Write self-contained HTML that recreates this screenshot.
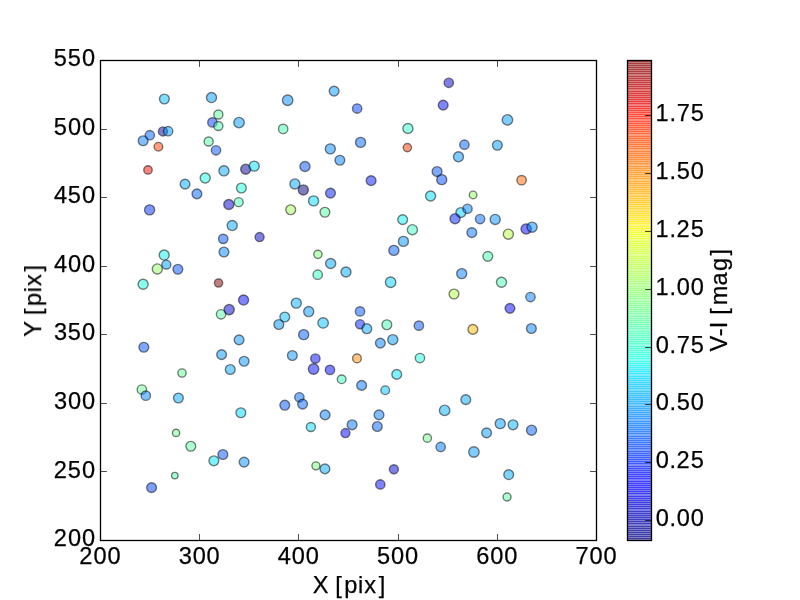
<!DOCTYPE html>
<html lang="en">
<head>
<meta charset="utf-8">
<title>Scatter plot: X [pix] vs Y [pix], colour V-I [mag]</title>
<style>
html,body{margin:0;padding:0;background:#ffffff;}
body{width:800px;height:600px;overflow:hidden;font-family:"Liberation Sans",sans-serif;}
svg{display:block;}
svg text{font-family:"Liberation Sans",sans-serif;fill:#000000;stroke:#000000;stroke-width:0.25px;}
.tick{stroke:#000;stroke-width:0.7;fill:none;}
.pt{stroke:#000000;stroke-opacity:0.5;stroke-width:1.389;fill-opacity:0.5;}
.cb rect{fill-opacity:0.5;shape-rendering:crispEdges;}
</style>
</head>
<body>
<svg width="800" height="600" viewBox="0 0 800 600">
<rect x="0" y="0" width="800" height="600" fill="#ffffff"/>

<g class="pts" aria-label="scatter points">
<circle class="pt" cx="238.70" cy="202.15" r="4.48" fill="#43ffb4"/>
<circle class="pt" cx="460.82" cy="212.59" r="4.93" fill="#00d0ff"/>
<circle class="pt" cx="164.36" cy="99.01" r="4.88" fill="#00bcff"/>
<circle class="pt" cx="211.52" cy="97.57" r="5.03" fill="#009cff"/>
<circle class="pt" cx="218.36" cy="114.49" r="4.53" fill="#5aff9d"/>
<circle class="pt" cx="212.42" cy="122.41" r="4.68" fill="#0040ff"/>
<circle class="pt" cx="218.36" cy="126.01" r="4.53" fill="#49ffad"/>
<circle class="pt" cx="162.92" cy="131.41" r="4.53" fill="#00009f"/>
<circle class="pt" cx="168.14" cy="131.23" r="4.68" fill="#009cff"/>
<circle class="pt" cx="149.78" cy="135.19" r="4.68" fill="#0060ff"/>
<circle class="pt" cx="143.12" cy="140.77" r="4.88" fill="#0080ff"/>
<circle class="pt" cx="158.42" cy="146.71" r="4.33" fill="#ff3f00"/>
<circle class="pt" cx="208.64" cy="141.49" r="4.53" fill="#53ffa4"/>
<circle class="pt" cx="216.02" cy="150.31" r="4.68" fill="#0054ff"/>
<circle class="pt" cx="147.98" cy="169.93" r="4.23" fill="#f10800"/>
<circle class="pt" cx="223.94" cy="170.83" r="5.03" fill="#00a8ff"/>
<circle class="pt" cx="205.22" cy="178.03" r="5.03" fill="#19ffde"/>
<circle class="pt" cx="185.06" cy="184.15" r="4.88" fill="#00a8ff"/>
<circle class="pt" cx="287.66" cy="100.27" r="5.23" fill="#0088ff"/>
<circle class="pt" cx="334.10" cy="91.09" r="4.88" fill="#009cff"/>
<circle class="pt" cx="357.14" cy="108.55" r="4.68" fill="#0040ff"/>
<circle class="pt" cx="239.06" cy="122.59" r="5.23" fill="#009cff"/>
<circle class="pt" cx="283.16" cy="128.89" r="4.68" fill="#43ffb4"/>
<circle class="pt" cx="360.56" cy="142.39" r="5.03" fill="#0068ff"/>
<circle class="pt" cx="330.32" cy="148.87" r="5.03" fill="#0088ff"/>
<circle class="pt" cx="339.86" cy="160.21" r="4.88" fill="#0080ff"/>
<circle class="pt" cx="304.94" cy="166.51" r="5.03" fill="#0054ff"/>
<circle class="pt" cx="245.72" cy="169.21" r="5.03" fill="#000096"/>
<circle class="pt" cx="254.18" cy="166.15" r="5.03" fill="#00dcfe"/>
<circle class="pt" cx="371.10" cy="180.65" r="4.88" fill="#0018ff"/>
<circle class="pt" cx="294.90" cy="183.95" r="5.03" fill="#00a8ff"/>
<circle class="pt" cx="241.40" cy="188.05" r="4.88" fill="#19ffde"/>
<circle class="pt" cx="448.76" cy="82.81" r="4.68" fill="#0000cd"/>
<circle class="pt" cx="443.18" cy="105.13" r="4.88" fill="#000cff"/>
<circle class="pt" cx="507.44" cy="119.89" r="5.23" fill="#009cff"/>
<circle class="pt" cx="407.90" cy="128.53" r="5.03" fill="#29ffce"/>
<circle class="pt" cx="407.36" cy="147.61" r="4.13" fill="#ff3800"/>
<circle class="pt" cx="464.42" cy="144.73" r="4.68" fill="#0060ff"/>
<circle class="pt" cx="497.36" cy="145.27" r="4.88" fill="#009cff"/>
<circle class="pt" cx="458.48" cy="156.79" r="5.03" fill="#0094ff"/>
<circle class="pt" cx="437.06" cy="171.55" r="4.88" fill="#0054ff"/>
<circle class="pt" cx="441.74" cy="179.65" r="5.03" fill="#004cff"/>
<circle class="pt" cx="521.60" cy="180.19" r="4.73" fill="#ff6800"/>
<circle class="pt" cx="196.94" cy="193.87" r="4.88" fill="#0060ff"/>
<circle class="pt" cx="149.60" cy="209.89" r="5.03" fill="#002cff"/>
<circle class="pt" cx="228.80" cy="204.49" r="5.03" fill="#0000cd"/>
<circle class="pt" cx="232.22" cy="225.55" r="5.03" fill="#00a8ff"/>
<circle class="pt" cx="223.22" cy="238.87" r="4.68" fill="#0054ff"/>
<circle class="pt" cx="223.94" cy="252.01" r="4.88" fill="#0088ff"/>
<circle class="pt" cx="164.18" cy="255.07" r="5.03" fill="#09f0ee"/>
<circle class="pt" cx="166.34" cy="264.61" r="4.53" fill="#009cff"/>
<circle class="pt" cx="157.34" cy="268.93" r="5.03" fill="#94ff63"/>
<circle class="pt" cx="177.86" cy="269.29" r="4.88" fill="#0054ff"/>
<circle class="pt" cx="143.12" cy="284.23" r="5.03" fill="#19ffde"/>
<circle class="pt" cx="218.54" cy="282.97" r="4.13" fill="#800000"/>
<circle class="pt" cx="303.32" cy="189.91" r="5.03" fill="#000080"/>
<circle class="pt" cx="330.50" cy="193.15" r="4.88" fill="#0018ff"/>
<circle class="pt" cx="313.58" cy="200.89" r="5.03" fill="#00dcfe"/>
<circle class="pt" cx="290.72" cy="209.71" r="4.88" fill="#a4ff53"/>
<circle class="pt" cx="324.92" cy="212.23" r="4.88" fill="#53ffa4"/>
<circle class="pt" cx="259.58" cy="237.07" r="4.53" fill="#0000cd"/>
<circle class="pt" cx="317.90" cy="254.35" r="4.13" fill="#7dff7a"/>
<circle class="pt" cx="330.68" cy="263.53" r="5.03" fill="#00a8ff"/>
<circle class="pt" cx="345.98" cy="271.99" r="5.03" fill="#00a8ff"/>
<circle class="pt" cx="317.72" cy="274.69" r="4.68" fill="#30ffc7"/>
<circle class="pt" cx="430.58" cy="196.03" r="5.03" fill="#00dcfe"/>
<circle class="pt" cx="473.06" cy="194.95" r="3.78" fill="#94ff63"/>
<circle class="pt" cx="467.48" cy="208.81" r="4.68" fill="#0080ff"/>
<circle class="pt" cx="455.06" cy="218.71" r="5.03" fill="#0020ff"/>
<circle class="pt" cx="480.08" cy="219.07" r="4.68" fill="#0068ff"/>
<circle class="pt" cx="495.20" cy="219.43" r="5.03" fill="#0094ff"/>
<circle class="pt" cx="402.68" cy="219.61" r="4.88" fill="#09f0ee"/>
<circle class="pt" cx="412.40" cy="229.69" r="5.03" fill="#39ffbe"/>
<circle class="pt" cx="471.80" cy="232.57" r="4.88" fill="#0074ff"/>
<circle class="pt" cx="508.34" cy="234.19" r="5.03" fill="#b4ff43"/>
<circle class="pt" cx="403.40" cy="241.39" r="5.03" fill="#0094ff"/>
<circle class="pt" cx="393.86" cy="250.39" r="5.03" fill="#0060ff"/>
<circle class="pt" cx="487.82" cy="256.33" r="4.88" fill="#43ffb4"/>
<circle class="pt" cx="461.72" cy="273.61" r="5.03" fill="#0080ff"/>
<circle class="pt" cx="390.62" cy="282.25" r="5.23" fill="#00d0ff"/>
<circle class="pt" cx="501.50" cy="282.25" r="5.03" fill="#43ffb4"/>
<circle class="pt" cx="526.16" cy="228.97" r="5.13" fill="#0004ff"/>
<circle class="pt" cx="532.10" cy="227.17" r="5.03" fill="#0088ff"/>
<circle class="pt" cx="221.06" cy="314.29" r="4.68" fill="#53ffa4"/>
<circle class="pt" cx="229.16" cy="309.61" r="5.13" fill="#0000cd"/>
<circle class="pt" cx="143.84" cy="347.23" r="4.88" fill="#0054ff"/>
<circle class="pt" cx="221.60" cy="354.61" r="4.88" fill="#0094ff"/>
<circle class="pt" cx="230.24" cy="369.55" r="4.88" fill="#00a8ff"/>
<circle class="pt" cx="182.00" cy="372.97" r="4.13" fill="#63ff94"/>
<circle class="pt" cx="141.86" cy="389.53" r="4.68" fill="#6aff8d"/>
<circle class="pt" cx="145.82" cy="395.65" r="4.68" fill="#0088ff"/>
<circle class="pt" cx="178.40" cy="397.99" r="4.88" fill="#00a8ff"/>
<circle class="pt" cx="243.56" cy="300.07" r="5.03" fill="#0004ff"/>
<circle class="pt" cx="296.30" cy="303.13" r="5.03" fill="#00b0ff"/>
<circle class="pt" cx="308.72" cy="311.59" r="5.03" fill="#009cff"/>
<circle class="pt" cx="278.84" cy="324.55" r="4.88" fill="#0094ff"/>
<circle class="pt" cx="284.78" cy="316.99" r="4.88" fill="#00bcff"/>
<circle class="pt" cx="323.12" cy="322.93" r="5.23" fill="#00c4ff"/>
<circle class="pt" cx="360.02" cy="311.41" r="4.68" fill="#0054ff"/>
<circle class="pt" cx="360.02" cy="324.19" r="4.53" fill="#0020ff"/>
<circle class="pt" cx="366.86" cy="328.69" r="4.88" fill="#00a8ff"/>
<circle class="pt" cx="303.68" cy="334.63" r="5.03" fill="#0060ff"/>
<circle class="pt" cx="239.06" cy="339.85" r="4.88" fill="#0094ff"/>
<circle class="pt" cx="292.34" cy="355.51" r="4.88" fill="#0094ff"/>
<circle class="pt" cx="244.10" cy="361.27" r="4.88" fill="#0094ff"/>
<circle class="pt" cx="315.38" cy="358.57" r="4.68" fill="#0004ff"/>
<circle class="pt" cx="313.58" cy="369.01" r="5.23" fill="#000cff"/>
<circle class="pt" cx="329.96" cy="369.91" r="4.68" fill="#0004ff"/>
<circle class="pt" cx="356.96" cy="358.39" r="4.33" fill="#ff8d00"/>
<circle class="pt" cx="341.66" cy="379.27" r="4.33" fill="#39ffbe"/>
<circle class="pt" cx="361.64" cy="385.39" r="4.88" fill="#0074ff"/>
<circle class="pt" cx="299.36" cy="397.27" r="4.68" fill="#0068ff"/>
<circle class="pt" cx="453.98" cy="293.95" r="4.88" fill="#b4ff43"/>
<circle class="pt" cx="509.96" cy="308.35" r="4.88" fill="#0004ff"/>
<circle class="pt" cx="386.84" cy="324.73" r="4.88" fill="#43ffb4"/>
<circle class="pt" cx="418.88" cy="325.63" r="4.68" fill="#0054ff"/>
<circle class="pt" cx="472.88" cy="329.41" r="4.88" fill="#ffbd00"/>
<circle class="pt" cx="392.78" cy="339.67" r="5.03" fill="#009cff"/>
<circle class="pt" cx="380.36" cy="343.09" r="4.88" fill="#0080ff"/>
<circle class="pt" cx="419.96" cy="358.03" r="4.68" fill="#19ffde"/>
<circle class="pt" cx="396.74" cy="374.41" r="4.88" fill="#00e4f8"/>
<circle class="pt" cx="385.22" cy="390.25" r="4.33" fill="#00c4ff"/>
<circle class="pt" cx="465.80" cy="399.65" r="4.88" fill="#00a8ff"/>
<circle class="pt" cx="530.48" cy="297.01" r="4.68" fill="#0080ff"/>
<circle class="pt" cx="531.38" cy="328.51" r="4.88" fill="#0080ff"/>
<circle class="pt" cx="176.06" cy="432.91" r="3.63" fill="#6aff8d"/>
<circle class="pt" cx="190.82" cy="446.23" r="4.88" fill="#5aff9d"/>
<circle class="pt" cx="213.86" cy="460.81" r="4.88" fill="#00e4f8"/>
<circle class="pt" cx="222.86" cy="454.51" r="4.88" fill="#0054ff"/>
<circle class="pt" cx="174.80" cy="475.57" r="3.23" fill="#49ffad"/>
<circle class="pt" cx="151.58" cy="487.63" r="4.88" fill="#0040ff"/>
<circle class="pt" cx="240.86" cy="412.75" r="4.88" fill="#00dcfe"/>
<circle class="pt" cx="284.78" cy="405.19" r="4.88" fill="#0054ff"/>
<circle class="pt" cx="302.60" cy="404.11" r="4.88" fill="#0068ff"/>
<circle class="pt" cx="325.10" cy="414.91" r="4.88" fill="#0080ff"/>
<circle class="pt" cx="310.88" cy="426.97" r="4.53" fill="#00dcfe"/>
<circle class="pt" cx="352.10" cy="424.81" r="4.88" fill="#0074ff"/>
<circle class="pt" cx="345.44" cy="433.09" r="4.53" fill="#0000ff"/>
<circle class="pt" cx="379.00" cy="414.91" r="4.88" fill="#0080ff"/>
<circle class="pt" cx="377.30" cy="426.55" r="4.88" fill="#0060ff"/>
<circle class="pt" cx="244.10" cy="462.07" r="4.88" fill="#0094ff"/>
<circle class="pt" cx="315.92" cy="465.85" r="3.98" fill="#7dff7a"/>
<circle class="pt" cx="324.92" cy="468.91" r="4.88" fill="#00a8ff"/>
<circle class="pt" cx="380.30" cy="484.45" r="4.68" fill="#0004ff"/>
<circle class="pt" cx="444.64" cy="410.41" r="5.23" fill="#00b0ff"/>
<circle class="pt" cx="500.25" cy="423.65" r="5.03" fill="#009cff"/>
<circle class="pt" cx="486.58" cy="432.91" r="4.88" fill="#009cff"/>
<circle class="pt" cx="427.36" cy="438.13" r="4.13" fill="#73ff83"/>
<circle class="pt" cx="440.68" cy="446.95" r="4.68" fill="#0074ff"/>
<circle class="pt" cx="473.90" cy="451.99" r="5.23" fill="#009cff"/>
<circle class="pt" cx="393.88" cy="469.27" r="4.53" fill="#0000da"/>
<circle class="pt" cx="513.02" cy="424.81" r="4.88" fill="#00b0ff"/>
<circle class="pt" cx="531.56" cy="430.21" r="5.03" fill="#0060ff"/>
<circle class="pt" cx="508.70" cy="474.67" r="4.88" fill="#00a8ff"/>
<circle class="pt" cx="507.08" cy="496.99" r="3.98" fill="#53ffa4"/>
</g>
<rect x="100.5" y="60.5" width="496" height="480" fill="none" stroke="#000" stroke-width="1.3"/>
<path class="tick" d="M100.5 540.5v-6.4M100.5 60.5v6.4M199.5 540.5v-6.4M199.5 60.5v6.4M298.5 540.5v-6.4M298.5 60.5v6.4M398.5 540.5v-6.4M398.5 60.5v6.4M497.5 540.5v-6.4M497.5 60.5v6.4M596.5 540.5v-6.4M596.5 60.5v6.4M100.5 540.5h6.4M596.5 540.5h-6.4M100.5 471.5h6.4M596.5 471.5h-6.4M100.5 403.5h6.4M596.5 403.5h-6.4M100.5 334.5h6.4M596.5 334.5h-6.4M100.5 266.5h6.4M596.5 266.5h-6.4M100.5 197.5h6.4M596.5 197.5h-6.4M100.5 129.5h6.4M596.5 129.5h-6.4M100.5 60.5h6.4M596.5 60.5h-6.4"/>
<g class="cb">
<rect x="628" y="538" width="24" height="2" fill="#000080"/>
<rect x="628" y="536" width="24" height="3" fill="#000084"/>
<rect x="628" y="534" width="24" height="3" fill="#000089"/>
<rect x="628" y="532" width="24" height="3" fill="#00008d"/>
<rect x="628" y="530" width="24" height="3" fill="#000092"/>
<rect x="628" y="528" width="24" height="3" fill="#000096"/>
<rect x="628" y="526" width="24" height="3" fill="#00009b"/>
<rect x="628" y="525" width="24" height="2" fill="#00009f"/>
<rect x="628" y="523" width="24" height="2" fill="#0000a4"/>
<rect x="628" y="521" width="24" height="3" fill="#0000a8"/>
<rect x="628" y="519" width="24" height="3" fill="#0000ad"/>
<rect x="628" y="517" width="24" height="3" fill="#0000b2"/>
<rect x="628" y="515" width="24" height="3" fill="#0000b6"/>
<rect x="628" y="513" width="24" height="3" fill="#0000bb"/>
<rect x="628" y="511" width="24" height="3" fill="#0000bf"/>
<rect x="628" y="510" width="24" height="2" fill="#0000c4"/>
<rect x="628" y="508" width="24" height="2" fill="#0000c8"/>
<rect x="628" y="506" width="24" height="3" fill="#0000cd"/>
<rect x="628" y="504" width="24" height="3" fill="#0000d1"/>
<rect x="628" y="502" width="24" height="3" fill="#0000d6"/>
<rect x="628" y="500" width="24" height="3" fill="#0000da"/>
<rect x="628" y="498" width="24" height="3" fill="#0000df"/>
<rect x="628" y="496" width="24" height="3" fill="#0000e3"/>
<rect x="628" y="495" width="24" height="2" fill="#0000e8"/>
<rect x="628" y="493" width="24" height="2" fill="#0000ed"/>
<rect x="628" y="491" width="24" height="3" fill="#0000f1"/>
<rect x="628" y="489" width="24" height="3" fill="#0000f6"/>
<rect x="628" y="487" width="24" height="3" fill="#0000fa"/>
<rect x="628" y="485" width="24" height="3" fill="#0000ff"/>
<rect x="628" y="483" width="24" height="3" fill="#0000ff"/>
<rect x="628" y="481" width="24" height="3" fill="#0000ff"/>
<rect x="628" y="480" width="24" height="2" fill="#0000ff"/>
<rect x="628" y="478" width="24" height="2" fill="#0000ff"/>
<rect x="628" y="476" width="24" height="3" fill="#0004ff"/>
<rect x="628" y="474" width="24" height="3" fill="#0008ff"/>
<rect x="628" y="472" width="24" height="3" fill="#000cff"/>
<rect x="628" y="470" width="24" height="3" fill="#0010ff"/>
<rect x="628" y="468" width="24" height="3" fill="#0014ff"/>
<rect x="628" y="466" width="24" height="3" fill="#0018ff"/>
<rect x="628" y="465" width="24" height="2" fill="#001cff"/>
<rect x="628" y="463" width="24" height="2" fill="#0020ff"/>
<rect x="628" y="461" width="24" height="3" fill="#0024ff"/>
<rect x="628" y="459" width="24" height="3" fill="#0028ff"/>
<rect x="628" y="457" width="24" height="3" fill="#002cff"/>
<rect x="628" y="455" width="24" height="3" fill="#0030ff"/>
<rect x="628" y="453" width="24" height="3" fill="#0034ff"/>
<rect x="628" y="451" width="24" height="3" fill="#0038ff"/>
<rect x="628" y="450" width="24" height="2" fill="#003cff"/>
<rect x="628" y="448" width="24" height="2" fill="#0040ff"/>
<rect x="628" y="446" width="24" height="3" fill="#0044ff"/>
<rect x="628" y="444" width="24" height="3" fill="#0048ff"/>
<rect x="628" y="442" width="24" height="3" fill="#004cff"/>
<rect x="628" y="440" width="24" height="3" fill="#0050ff"/>
<rect x="628" y="438" width="24" height="3" fill="#0054ff"/>
<rect x="628" y="436" width="24" height="3" fill="#0058ff"/>
<rect x="628" y="435" width="24" height="2" fill="#005cff"/>
<rect x="628" y="433" width="24" height="2" fill="#0060ff"/>
<rect x="628" y="431" width="24" height="3" fill="#0064ff"/>
<rect x="628" y="429" width="24" height="3" fill="#0068ff"/>
<rect x="628" y="427" width="24" height="3" fill="#006cff"/>
<rect x="628" y="425" width="24" height="3" fill="#0070ff"/>
<rect x="628" y="423" width="24" height="3" fill="#0074ff"/>
<rect x="628" y="421" width="24" height="3" fill="#0078ff"/>
<rect x="628" y="420" width="24" height="2" fill="#007cff"/>
<rect x="628" y="418" width="24" height="2" fill="#0080ff"/>
<rect x="628" y="416" width="24" height="3" fill="#0084ff"/>
<rect x="628" y="414" width="24" height="3" fill="#0088ff"/>
<rect x="628" y="412" width="24" height="3" fill="#008cff"/>
<rect x="628" y="410" width="24" height="3" fill="#0090ff"/>
<rect x="628" y="408" width="24" height="3" fill="#0094ff"/>
<rect x="628" y="406" width="24" height="3" fill="#0098ff"/>
<rect x="628" y="405" width="24" height="2" fill="#009cff"/>
<rect x="628" y="403" width="24" height="2" fill="#00a0ff"/>
<rect x="628" y="401" width="24" height="3" fill="#00a4ff"/>
<rect x="628" y="399" width="24" height="3" fill="#00a8ff"/>
<rect x="628" y="397" width="24" height="3" fill="#00acff"/>
<rect x="628" y="395" width="24" height="3" fill="#00b0ff"/>
<rect x="628" y="393" width="24" height="3" fill="#00b4ff"/>
<rect x="628" y="391" width="24" height="3" fill="#00b8ff"/>
<rect x="628" y="390" width="24" height="2" fill="#00bcff"/>
<rect x="628" y="388" width="24" height="2" fill="#00c0ff"/>
<rect x="628" y="386" width="24" height="3" fill="#00c4ff"/>
<rect x="628" y="384" width="24" height="3" fill="#00c8ff"/>
<rect x="628" y="382" width="24" height="3" fill="#00ccff"/>
<rect x="628" y="380" width="24" height="3" fill="#00d0ff"/>
<rect x="628" y="378" width="24" height="3" fill="#00d4ff"/>
<rect x="628" y="376" width="24" height="3" fill="#00d8ff"/>
<rect x="628" y="375" width="24" height="2" fill="#00dcfe"/>
<rect x="628" y="373" width="24" height="2" fill="#00e0fb"/>
<rect x="628" y="371" width="24" height="3" fill="#00e4f8"/>
<rect x="628" y="369" width="24" height="3" fill="#02e8f4"/>
<rect x="628" y="367" width="24" height="3" fill="#06ecf1"/>
<rect x="628" y="365" width="24" height="3" fill="#09f0ee"/>
<rect x="628" y="363" width="24" height="3" fill="#0cf4eb"/>
<rect x="628" y="361" width="24" height="3" fill="#0ff8e7"/>
<rect x="628" y="360" width="24" height="2" fill="#13fce4"/>
<rect x="628" y="358" width="24" height="2" fill="#16ffe1"/>
<rect x="628" y="356" width="24" height="3" fill="#19ffde"/>
<rect x="628" y="354" width="24" height="3" fill="#1cffdb"/>
<rect x="628" y="352" width="24" height="3" fill="#1fffd7"/>
<rect x="628" y="350" width="24" height="3" fill="#23ffd4"/>
<rect x="628" y="348" width="24" height="3" fill="#26ffd1"/>
<rect x="628" y="346" width="24" height="3" fill="#29ffce"/>
<rect x="628" y="345" width="24" height="2" fill="#2cffca"/>
<rect x="628" y="343" width="24" height="2" fill="#30ffc7"/>
<rect x="628" y="341" width="24" height="3" fill="#33ffc4"/>
<rect x="628" y="339" width="24" height="3" fill="#36ffc1"/>
<rect x="628" y="337" width="24" height="3" fill="#39ffbe"/>
<rect x="628" y="335" width="24" height="3" fill="#3cffba"/>
<rect x="628" y="333" width="24" height="3" fill="#40ffb7"/>
<rect x="628" y="331" width="24" height="3" fill="#43ffb4"/>
<rect x="628" y="330" width="24" height="2" fill="#46ffb1"/>
<rect x="628" y="328" width="24" height="2" fill="#49ffad"/>
<rect x="628" y="326" width="24" height="3" fill="#4dffaa"/>
<rect x="628" y="324" width="24" height="3" fill="#50ffa7"/>
<rect x="628" y="322" width="24" height="3" fill="#53ffa4"/>
<rect x="628" y="320" width="24" height="3" fill="#56ffa0"/>
<rect x="628" y="318" width="24" height="3" fill="#5aff9d"/>
<rect x="628" y="316" width="24" height="3" fill="#5dff9a"/>
<rect x="628" y="315" width="24" height="2" fill="#60ff97"/>
<rect x="628" y="313" width="24" height="2" fill="#63ff94"/>
<rect x="628" y="311" width="24" height="3" fill="#66ff90"/>
<rect x="628" y="309" width="24" height="3" fill="#6aff8d"/>
<rect x="628" y="307" width="24" height="3" fill="#6dff8a"/>
<rect x="628" y="305" width="24" height="3" fill="#70ff87"/>
<rect x="628" y="303" width="24" height="3" fill="#73ff83"/>
<rect x="628" y="301" width="24" height="3" fill="#77ff80"/>
<rect x="628" y="300" width="24" height="2" fill="#7aff7d"/>
<rect x="628" y="298" width="24" height="2" fill="#7dff7a"/>
<rect x="628" y="296" width="24" height="3" fill="#80ff77"/>
<rect x="628" y="294" width="24" height="3" fill="#83ff73"/>
<rect x="628" y="292" width="24" height="3" fill="#87ff70"/>
<rect x="628" y="290" width="24" height="3" fill="#8aff6d"/>
<rect x="628" y="288" width="24" height="3" fill="#8dff6a"/>
<rect x="628" y="286" width="24" height="3" fill="#90ff66"/>
<rect x="628" y="285" width="24" height="2" fill="#94ff63"/>
<rect x="628" y="283" width="24" height="2" fill="#97ff60"/>
<rect x="628" y="281" width="24" height="3" fill="#9aff5d"/>
<rect x="628" y="279" width="24" height="3" fill="#9dff5a"/>
<rect x="628" y="277" width="24" height="3" fill="#a0ff56"/>
<rect x="628" y="275" width="24" height="3" fill="#a4ff53"/>
<rect x="628" y="273" width="24" height="3" fill="#a7ff50"/>
<rect x="628" y="271" width="24" height="3" fill="#aaff4d"/>
<rect x="628" y="270" width="24" height="2" fill="#adff49"/>
<rect x="628" y="268" width="24" height="2" fill="#b1ff46"/>
<rect x="628" y="266" width="24" height="3" fill="#b4ff43"/>
<rect x="628" y="264" width="24" height="3" fill="#b7ff40"/>
<rect x="628" y="262" width="24" height="3" fill="#baff3c"/>
<rect x="628" y="260" width="24" height="3" fill="#beff39"/>
<rect x="628" y="258" width="24" height="3" fill="#c1ff36"/>
<rect x="628" y="256" width="24" height="3" fill="#c4ff33"/>
<rect x="628" y="255" width="24" height="2" fill="#c7ff30"/>
<rect x="628" y="253" width="24" height="2" fill="#caff2c"/>
<rect x="628" y="251" width="24" height="3" fill="#ceff29"/>
<rect x="628" y="249" width="24" height="3" fill="#d1ff26"/>
<rect x="628" y="247" width="24" height="3" fill="#d4ff23"/>
<rect x="628" y="245" width="24" height="3" fill="#d7ff1f"/>
<rect x="628" y="243" width="24" height="3" fill="#dbff1c"/>
<rect x="628" y="241" width="24" height="3" fill="#deff19"/>
<rect x="628" y="240" width="24" height="2" fill="#e1ff16"/>
<rect x="628" y="238" width="24" height="2" fill="#e4ff13"/>
<rect x="628" y="236" width="24" height="3" fill="#e7ff0f"/>
<rect x="628" y="234" width="24" height="3" fill="#ebff0c"/>
<rect x="628" y="232" width="24" height="3" fill="#eeff09"/>
<rect x="628" y="230" width="24" height="3" fill="#f1fc06"/>
<rect x="628" y="228" width="24" height="3" fill="#f4f802"/>
<rect x="628" y="226" width="24" height="3" fill="#f8f500"/>
<rect x="628" y="225" width="24" height="2" fill="#fbf100"/>
<rect x="628" y="223" width="24" height="2" fill="#feed00"/>
<rect x="628" y="221" width="24" height="3" fill="#ffea00"/>
<rect x="628" y="219" width="24" height="3" fill="#ffe600"/>
<rect x="628" y="217" width="24" height="3" fill="#ffe200"/>
<rect x="628" y="215" width="24" height="3" fill="#ffde00"/>
<rect x="628" y="213" width="24" height="3" fill="#ffdb00"/>
<rect x="628" y="211" width="24" height="3" fill="#ffd700"/>
<rect x="628" y="210" width="24" height="2" fill="#ffd300"/>
<rect x="628" y="208" width="24" height="2" fill="#ffd000"/>
<rect x="628" y="206" width="24" height="3" fill="#ffcc00"/>
<rect x="628" y="204" width="24" height="3" fill="#ffc800"/>
<rect x="628" y="202" width="24" height="3" fill="#ffc400"/>
<rect x="628" y="200" width="24" height="3" fill="#ffc100"/>
<rect x="628" y="198" width="24" height="3" fill="#ffbd00"/>
<rect x="628" y="196" width="24" height="3" fill="#ffb900"/>
<rect x="628" y="195" width="24" height="2" fill="#ffb600"/>
<rect x="628" y="193" width="24" height="2" fill="#ffb200"/>
<rect x="628" y="191" width="24" height="3" fill="#ffae00"/>
<rect x="628" y="189" width="24" height="3" fill="#ffab00"/>
<rect x="628" y="187" width="24" height="3" fill="#ffa700"/>
<rect x="628" y="185" width="24" height="3" fill="#ffa300"/>
<rect x="628" y="183" width="24" height="3" fill="#ff9f00"/>
<rect x="628" y="181" width="24" height="3" fill="#ff9c00"/>
<rect x="628" y="180" width="24" height="2" fill="#ff9800"/>
<rect x="628" y="178" width="24" height="2" fill="#ff9400"/>
<rect x="628" y="176" width="24" height="3" fill="#ff9100"/>
<rect x="628" y="174" width="24" height="3" fill="#ff8d00"/>
<rect x="628" y="172" width="24" height="3" fill="#ff8900"/>
<rect x="628" y="170" width="24" height="3" fill="#ff8600"/>
<rect x="628" y="168" width="24" height="3" fill="#ff8200"/>
<rect x="628" y="166" width="24" height="3" fill="#ff7e00"/>
<rect x="628" y="165" width="24" height="2" fill="#ff7a00"/>
<rect x="628" y="163" width="24" height="2" fill="#ff7700"/>
<rect x="628" y="161" width="24" height="3" fill="#ff7300"/>
<rect x="628" y="159" width="24" height="3" fill="#ff6f00"/>
<rect x="628" y="157" width="24" height="3" fill="#ff6c00"/>
<rect x="628" y="155" width="24" height="3" fill="#ff6800"/>
<rect x="628" y="153" width="24" height="3" fill="#ff6400"/>
<rect x="628" y="151" width="24" height="3" fill="#ff6000"/>
<rect x="628" y="150" width="24" height="2" fill="#ff5d00"/>
<rect x="628" y="148" width="24" height="2" fill="#ff5900"/>
<rect x="628" y="146" width="24" height="3" fill="#ff5500"/>
<rect x="628" y="144" width="24" height="3" fill="#ff5200"/>
<rect x="628" y="142" width="24" height="3" fill="#ff4e00"/>
<rect x="628" y="140" width="24" height="3" fill="#ff4a00"/>
<rect x="628" y="138" width="24" height="3" fill="#ff4700"/>
<rect x="628" y="136" width="24" height="3" fill="#ff4300"/>
<rect x="628" y="135" width="24" height="2" fill="#ff3f00"/>
<rect x="628" y="133" width="24" height="2" fill="#ff3b00"/>
<rect x="628" y="131" width="24" height="3" fill="#ff3800"/>
<rect x="628" y="129" width="24" height="3" fill="#ff3400"/>
<rect x="628" y="127" width="24" height="3" fill="#ff3000"/>
<rect x="628" y="125" width="24" height="3" fill="#ff2d00"/>
<rect x="628" y="123" width="24" height="3" fill="#ff2900"/>
<rect x="628" y="121" width="24" height="3" fill="#ff2500"/>
<rect x="628" y="120" width="24" height="2" fill="#ff2200"/>
<rect x="628" y="118" width="24" height="2" fill="#ff1e00"/>
<rect x="628" y="116" width="24" height="3" fill="#ff1a00"/>
<rect x="628" y="114" width="24" height="3" fill="#ff1600"/>
<rect x="628" y="112" width="24" height="3" fill="#ff1300"/>
<rect x="628" y="110" width="24" height="3" fill="#fa0f00"/>
<rect x="628" y="108" width="24" height="3" fill="#f60b00"/>
<rect x="628" y="106" width="24" height="3" fill="#f10800"/>
<rect x="628" y="105" width="24" height="2" fill="#ed0400"/>
<rect x="628" y="103" width="24" height="2" fill="#e80000"/>
<rect x="628" y="101" width="24" height="3" fill="#e40000"/>
<rect x="628" y="99" width="24" height="3" fill="#df0000"/>
<rect x="628" y="97" width="24" height="3" fill="#da0000"/>
<rect x="628" y="95" width="24" height="3" fill="#d60000"/>
<rect x="628" y="93" width="24" height="3" fill="#d10000"/>
<rect x="628" y="91" width="24" height="3" fill="#cd0000"/>
<rect x="628" y="90" width="24" height="2" fill="#c80000"/>
<rect x="628" y="88" width="24" height="2" fill="#c40000"/>
<rect x="628" y="86" width="24" height="3" fill="#bf0000"/>
<rect x="628" y="84" width="24" height="3" fill="#bb0000"/>
<rect x="628" y="82" width="24" height="3" fill="#b60000"/>
<rect x="628" y="80" width="24" height="3" fill="#b20000"/>
<rect x="628" y="78" width="24" height="3" fill="#ad0000"/>
<rect x="628" y="76" width="24" height="3" fill="#a80000"/>
<rect x="628" y="75" width="24" height="2" fill="#a40000"/>
<rect x="628" y="73" width="24" height="2" fill="#9f0000"/>
<rect x="628" y="71" width="24" height="3" fill="#9b0000"/>
<rect x="628" y="69" width="24" height="3" fill="#960000"/>
<rect x="628" y="67" width="24" height="3" fill="#920000"/>
<rect x="628" y="65" width="24" height="3" fill="#8d0000"/>
<rect x="628" y="63" width="24" height="3" fill="#890000"/>
<rect x="628" y="61" width="24" height="3" fill="#840000"/>
<rect x="628" y="60" width="24" height="2" fill="#800000"/>
</g>
<rect x="627.5" y="60.5" width="24" height="480" fill="none" stroke="#000" stroke-width="1.3"/>
<path class="tick" d="M651.5 520.5h-6.4M651.5 462.5h-6.4M651.5 404.5h-6.4M651.5 347.5h-6.4M651.5 289.5h-6.4M651.5 231.5h-6.4M651.5 173.5h-6.4M651.5 115.5h-6.4"/>
<g class="labels" opacity="0.999">
<text transform="translate(100.00 564.00)" font-size="23.6" x="-20.86 -6.57 7.43" y="0">200</text>
<text transform="translate(199.20 564.00)" font-size="23.6" x="-20.53 -6.57 7.43" y="0">300</text>
<text transform="translate(298.40 564.00)" font-size="23.6" x="-20.57 -6.57 7.43" y="0">400</text>
<text transform="translate(397.60 564.00)" font-size="23.6" x="-20.65 -6.57 7.43" y="0">500</text>
<text transform="translate(496.80 564.00)" font-size="23.6" x="-20.57 -6.57 7.43" y="0">600</text>
<text transform="translate(596.00 564.00)" font-size="23.6" x="-20.61 -6.57 7.43" y="0">700</text>
<text transform="translate(95.50 546.20)" font-size="23.6" x="-41.85 -27.56 -13.57" y="0">200</text>
<text transform="translate(95.50 477.63)" font-size="23.6" x="-41.85 -27.65 -13.57" y="0">250</text>
<text transform="translate(95.50 409.06)" font-size="23.6" x="-41.53 -27.56 -13.57" y="0">300</text>
<text transform="translate(95.50 340.49)" font-size="23.6" x="-41.53 -27.65 -13.57" y="0">350</text>
<text transform="translate(95.50 271.91)" font-size="23.6" x="-41.56 -27.56 -13.57" y="0">400</text>
<text transform="translate(95.50 203.34)" font-size="23.6" x="-41.56 -27.65 -13.57" y="0">450</text>
<text transform="translate(95.50 134.77)" font-size="23.6" x="-41.65 -27.56 -13.57" y="0">500</text>
<text transform="translate(95.50 66.20)" font-size="23.6" x="-41.65 -27.65 -13.57" y="0">550</text>
<text transform="translate(655.30 526.40)" font-size="23.6" x="0.43 14.20 21.42 35.42" y="0">0.00</text>
<text transform="translate(655.30 468.40)" font-size="23.6" x="0.43 14.20 21.13 35.33" y="0">0.25</text>
<text transform="translate(655.30 410.40)" font-size="23.6" x="0.43 14.20 21.34 35.42" y="0">0.50</text>
<text transform="translate(655.30 353.40)" font-size="23.6" x="0.43 14.20 21.38 35.33" y="0">0.75</text>
<text transform="translate(655.30 295.40)" font-size="23.6" x="0.31 14.20 21.42 35.42" y="0">1.00</text>
<text transform="translate(655.30 237.40)" font-size="23.6" x="0.31 14.20 21.13 35.33" y="0">1.25</text>
<text transform="translate(655.30 179.40)" font-size="23.6" x="0.31 14.20 21.34 35.42" y="0">1.50</text>
<text transform="translate(655.30 121.40)" font-size="23.6" x="0.31 14.20 21.38 35.33" y="0">1.75</text>
<text transform="translate(349.20 592.70)" font-size="23.6" x="-36.53 -20.87 -13.96 -4.96 8.89 15.12 29.47" y="0">X [pix]</text>
<text transform="translate(41.00 300.30) rotate(-90)" font-size="23.6" x="-36.50 -21.69 -14.78 -5.78 8.08 14.31 28.65" y="0">Y [pix]</text>
<text transform="translate(727.00 300.00) rotate(-90)" font-size="23.6" x="-51.61 -36.17 -28.30 -21.56 -14.65 -5.26 14.57 29.00 44.56" y="0">V-I [mag]</text>
</g>
</svg>
</body>
</html>
